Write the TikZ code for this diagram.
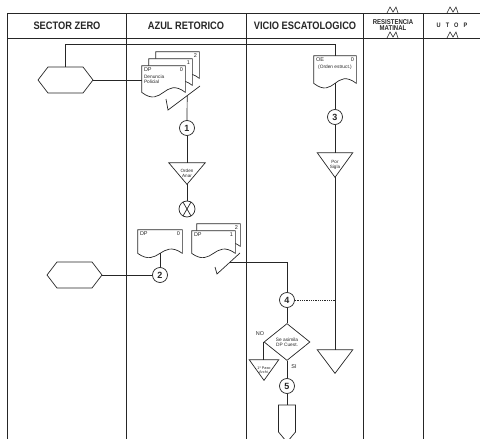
\documentclass[tikz,border=0pt]{standalone}
\usepackage{fontspec}
\setmainfont{Liberation Sans}
\newfontfamily\headfont[FakeStretch=0.86]{Liberation Sans}
\usetikzlibrary{shapes.geometric, shapes.symbols, calc}

\begin{document}
\begin{tikzpicture}[
  x=1pt, y=-1pt, color=black!85, line width=0.7pt,
  lane/.style={line width=0.8pt},
  brk/.style={line width=0.6pt},
  head/.style={inner sep=0, font=\headfont\bfseries\fontsize{10.8}{11}\selectfont},
  headsm/.style={inner sep=0, align=center, font=\headfont\bfseries\fontsize{7}{6}\selectfont},
  hexa/.style={signal, signal to=east and west, signal pointer angle=105, draw,
               minimum width=55, minimum height=26, inner sep=0},
  docbox/.style={rectangle, inner sep=0, minimum width=43, minimum height=26},
  wave/.style={fill=white},
  tribox/.style={rectangle, inner sep=0, minimum width=35, minimum height=23,
                 align=center, font=\fontsize{4.6}{5.2}\selectfont},
  num/.style={circle, draw, fill=white, inner sep=0, minimum size=15,
              font=\bfseries\fontsize{9}{9}\selectfont},
  tag/.style={inner sep=0, font=\fontsize{5.5}{6}\selectfont},
  note/.style={inner sep=0, align=left, font=\fontsize{4.8}{5.4}\selectfont},
  dots/.style={line width=0.6pt, dash pattern=on 0.6pt off 1.2pt}
]
\useasboundingbox (0,0) rectangle (480,439);

% lanes
\draw[lane] (7,439) -- (7,13) -- (480,13);
\draw[lane] (7,38) -- (480,38);
\foreach \lx in {126,246,363,423}
  \draw[lane] (\lx,13) -- (\lx,439);
\foreach \bx in {393,453}
  \foreach \by in {13,38}
    \draw[brk] (\bx-6,\by) -- (\bx-3,\by-6) -- (\bx,\by-1) -- (\bx+3,\by-6) -- (\bx+5,\by);

\node[head] (hZero) at (67,26) {SECTOR ZERO};
\node[head] (hAzul) at (186,26) {AZUL RETORICO};
\node[head] (hVicio) at (305,26) {VICIO ESCATOLOGICO};
\node[headsm] (hResist) at (393,25) {RESISTENCIA\\MATINAL};
\node[inner sep=0, font=\headfont\bfseries\fontsize{6.5}{7}\selectfont]
  (hUtop) at (452,25) {\spaceskip=5pt U T O P};

% sector zero
\node[hexa] (hexA) at (65.5,80) {};
\node[hexa] (hexB) at (74.5,275) {};

% azul retorico, upper stack
\node[docbox] (dpA2) at (177.5,65) {};
\node[docbox] (dpA1) at (170.5,72) {};
\node[docbox] (dpA)  at (163.5,79) {};
\foreach \d in {dpA2,dpA1,dpA}
  \draw[wave] (\d.north west) -- (\d.north east) -- (\d.south east)
    .. controls +(-21,-16) and +(21,16) .. (\d.south west) -- cycle;
\node[tag, anchor=north west] (dpAt) at ([xshift=2,yshift=-2]dpA.north west) {DP};
\node[tag, anchor=north east] (dpAn) at ([xshift=-2,yshift=-2]dpA.north east) {0};
\node[note, anchor=north west] (dpAx) at ([xshift=2,yshift=-9]dpA.north west) {Denuncia\\Policial};
\node[tag, anchor=north east] (dpA1n) at ([xshift=-2,yshift=-2]dpA1.north east) {1};
\node[tag, anchor=north east] (dpA2n) at ([xshift=-2,yshift=-2]dpA2.north east) {2};

\coordinate (ck1a) at (166,99);
\coordinate (ck1b) at (168,110);
\coordinate (ck1c) at (200,86);
\draw (ck1a) -- (ck1b) -- (ck1c);
\coordinate (ck1o) at ($(ck1b)!0.6!(ck1c)$);

\node[num] (c1) at (187,128) {1};
\node[tribox, minimum width=36, minimum height=21] (triA) at (187,173.5) {Orden\\Anar};
\draw (triA.north west) -- (triA.north east) -- (triA.south) -- cycle;
\node[circle, draw, minimum size=16, inner sep=0] (coll) at (187,209) {};
\draw (coll.60) -- (coll.240) (coll.120) -- (coll.300);

\draw (hexA.east) -- (hexA.east -| dpA.west);
\draw (ck1o) -- (c1.north);
\draw (c1.south) -- (triA.north);
\draw (triA.south) -- (coll.north);

% azul retorico, lower docs
\node[docbox, minimum width=44, minimum height=23] (dpB) at (160,241.5) {};
\node[docbox, minimum height=22] (dpC2) at (218.5,235) {};
\node[docbox, minimum height=22] (dpC)  at (213.5,242) {};
\foreach \d in {dpB,dpC2,dpC}
  \draw[wave] (\d.north west) -- (\d.north east) -- (\d.south east)
    .. controls +(-21,-15) and +(21,15) .. (\d.south west) -- cycle;
\node[tag, anchor=north west] (dpBt) at ([xshift=2,yshift=-2]dpB.north west) {DP};
\node[tag, anchor=north east] (dpBn) at ([xshift=-2,yshift=-2]dpB.north east) {0};
\node[tag, anchor=north west] (dpCt) at ([xshift=2,yshift=-2]dpC.north west) {DP};
\node[tag, anchor=north east] (dpCn) at ([xshift=-2,yshift=-2]dpC.north east) {1};
\node[tag, anchor=north east] (dpC2n) at ([xshift=-2,yshift=-2]dpC2.north east) {2};

\coordinate (ck2a) at (215,267);
\coordinate (ck2b) at (217,274);
\coordinate (ck2c) at (240,253);
\draw (ck2a) -- (ck2b) -- (ck2c);
\coordinate (ck2o) at ($(ck2b)!0.57!(ck2c)$);

\node[num] (c2) at (160,275) {2};
\draw (hexB.east) -- (c2.west);
\draw (dpB.south) -- (c2.north);

% vicio escatologico
\node[docbox, minimum width=42, minimum height=27] (oeDoc) at (335,69.5) {};
\draw[wave] (oeDoc.north west) -- (oeDoc.north east) -- (oeDoc.south east)
  .. controls +(-21,-16) and +(21,16) .. (oeDoc.south west) -- cycle;
\node[tag, anchor=north west] (oeDoct) at ([xshift=2,yshift=-2]oeDoc.north west) {OE};
\node[tag, anchor=north east] (oeDocn) at ([xshift=-2,yshift=-2]oeDoc.north east) {0};
\node[note, anchor=north] (oeDocx) at ([yshift=-9]oeDoc.north) {(Orden estruct.)};

\coordinate (topbend) at (335,44);
\draw (hexA.north) |- (topbend) -- (oeDoc.north);

\node[num] (c3) at (335,117) {3};
\node[tribox, minimum height=24] (triB) at (335,165) {Por\\Sigla};
\node[tribox] (triC) at (335,361.5) {};
\foreach \t in {triB,triC}
  \draw (\t.north west) -- (\t.north east) -- (\t.south) -- cycle;
\draw (oeDoc.south) -- (c3.north);
\draw (c3.south) -- (triB.north);
\draw (triB.south) -- (triC.north);

\node[num] (c4) at (287,300) {4};
\draw (ck2o) -| (c4.north);
\draw[dots] (c4.east) -- (c4 -| triC.north);

\node[diamond, draw, inner sep=0, minimum width=46, minimum height=37, align=center,
      font=\fontsize{4.8}{5.4}\selectfont] (dia) at (287,342) {Se asimila\\DP Cuest.};
\draw (c4.south) -- (dia.north);

\node[tribox, minimum width=29, minimum height=20, font=\fontsize{3.8}{4.3}\selectfont]
  (triD) at (264,370) {1º Paso\\Archi.};
\draw (triD.north west) -- (triD.north east) -- (triD.south) -- cycle;
\draw (dia.west) -- (dia.west |- triD.north);
\node[tag] (lblNo) at (260,334) {NO};
\node[tag] (lblSi) at (294,367) {SI};

\node[num] (c5) at (287,386) {5};
\node[signal, signal to=south, signal pointer angle=80, draw, inner sep=0,
      minimum width=17, minimum height=27] (ofp) at (287,418.5) {};
\draw (dia.south) -- (c5.north);
\draw (c5.south) -- (ofp.north);
\end{tikzpicture}
\end{document}
